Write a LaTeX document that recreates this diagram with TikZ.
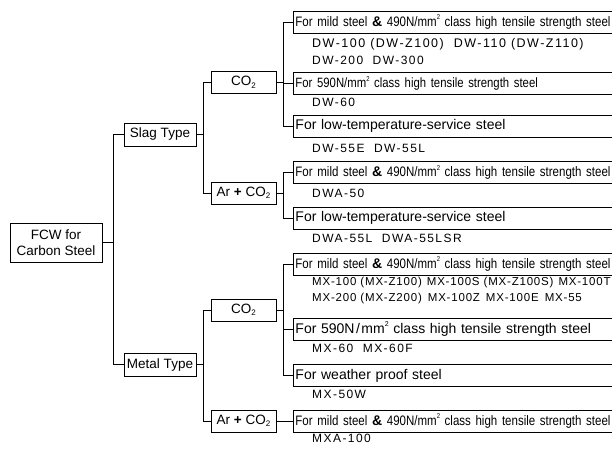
\documentclass[tikz,border=0pt]{standalone}
\usepackage{fontspec}
\setmainfont{Liberation Sans}
\newfontfamily\narrowf[FakeStretch=0.84]{Liberation Sans}
\newfontfamily\codef[LetterSpace=12]{Liberation Sans}
\newfontfamily\codeg[LetterSpace=7]{Liberation Sans}
\newcommand{\sqr}{\raisebox{0.85ex}{\fontsize{7}{7}\selectfont 2}}
\newcommand{\sub}{\raisebox{-0.35ex}{\fontsize{8}{8}\selectfont 2}}
\newcommand{\amp}{{\normalfont\bfseries\fontsize{14}{14}\selectfont\&}}
\newcommand{\mildtxt}{{\narrowf\fontsize{13.7}{16}\selectfont For mild steel \amp{} 490N/mm\sqr{} class high tensile strength steel}}
\tikzset{
  lv/.style={line width=0.9pt},
  tbox/.style={draw, lv, inner sep=0pt, align=center, font=\fontsize{13.5}{15.5}\selectfont},
  cat/.style={draw, lv, anchor=west, minimum height=22pt, text width=400pt, inner xsep=2pt, inner ysep=0pt, align=left, font=\fontsize{14}{16}\selectfont},
  code/.style={anchor=west, align=left, inner sep=0pt, font=\codef\fontsize{12}{17}\selectfont},
  codes/.style={anchor=west, align=left, inner sep=0pt, font=\codeg\fontsize{11.5}{16}\selectfont},
}
\begin{document}
\begin{tikzpicture}[x=1pt, y=-1pt]
\path[use as bounding box] (0,0) rectangle (612,448);
\clip (0,0) rectangle (612,448);
% level 0
\node[tbox, minimum width=92pt, minimum height=39pt] (fcw) at (56,242.5) {FCW for\\Carbon Steel};
% level 1
\node[tbox, minimum width=72pt, minimum height=23pt] (slag) at (160,134.5) {Slag Type};
\node[tbox, minimum width=72pt, minimum height=23pt] (metal) at (160,364.5) {Metal Type};
% level 2
\node[tbox, minimum width=65pt, minimum height=22pt] (co2a) at (243.5,82.5) {CO\sub};
\node[tbox, minimum width=65pt, minimum height=22pt] (ar1) at (243.5,193) {Ar {\bfseries+} CO\sub};
\node[tbox, minimum width=65pt, minimum height=22pt] (co2b) at (243.5,310) {CO\sub};
\node[tbox, minimum width=65pt, minimum height=22pt] (ar2) at (243.5,421) {Ar {\bfseries+} CO\sub};
% level 3
\node[cat] (c1) at (293,22) {\mildtxt};
\node[cat] (c2) at (293,83) {{\narrowf\fontsize{13.5}{16}\selectfont For 590N/mm\sqr{} class high tensile strength steel}};
\node[cat] (c3) at (293,126) {For low-temperature-service steel};
\node[cat] (c4) at (293,172.5) {\mildtxt};
\node[cat] (c5) at (293,218) {For low-temperature-service steel};
\node[cat] (c6) at (293,264) {\mildtxt};
\node[cat] (c7) at (293,329) {For 590N\hspace{1.5pt}/\hspace{1.5pt}mm\sqr{} class high tensile strength steel};
\node[cat] (c8) at (293,375.5) {For weather proof steel};
\node[cat] (c9) at (293,421) {\mildtxt};
% products
\node[code] (p1) at (312,52) {{\fontsize{12.5}{17}\selectfont DW-100 (DW-Z100)\hspace{10pt}DW-110 (DW-Z110)}\\DW-200\ \ DW-300};
\node[code] (p2) at (312,102) {DW-60};
\node[code] (p3) at (312,148) {DW-55E\ \ DW-55L};
\node[code] (p4) at (312,193) {DWA-50};
\node[code] (p5) at (312,238) {DWA-55L\ \ DWA-55LSR};
\node[codes] (p6) at (312,290.5) {MX-100 (MX-Z100)\hspace{5pt}MX-100S (MX-Z100S)\hspace{5pt}MX-100T\\MX-200 (MX-Z200)\hspace{6pt}MX-100Z\hspace{6pt}MX-100E\hspace{6pt}MX-55};
\node[code] (p7) at (312,348) {MX-60\ \ MX-60F};
\node[code] (p8) at (312,394) {MX-50W};
\node[code] (p9) at (312,438) {MXA-100};
% bus coordinates
\coordinate (b1) at (113,0);
\coordinate (b2) at (203,0);
\coordinate (b3) at (283,0);
% connectors
\draw[lv] (fcw.east) -- (fcw.east -| b1);
\draw[lv] (slag.west) -| (b1 |- metal.west) -- (metal.west);
\draw[lv] (slag.east) -- (slag.east -| b2);
\draw[lv] (co2a.west) -| (b2 |- ar1.west) -- (ar1.west);
\draw[lv] (metal.east) -- (metal.east -| b2);
\draw[lv] (co2b.west) -| (b2 |- ar2.west) -- (ar2.west);
\draw[lv] (co2a.east) -- (co2a.east -| b3);
\draw[lv] (c1.west) -| (b3 |- c3.west) -- (c3.west);
\draw[lv] (c2.west) -- (c2.west -| b3);
\draw[lv] (ar1.east) -- (ar1.east -| b3);
\draw[lv] (c4.west) -| (b3 |- c5.west) -- (c5.west);
\draw[lv] (co2b.east) -- (co2b.east -| b3);
\draw[lv] (c6.west) -| (b3 |- c8.west) -- (c8.west);
\draw[lv] (c7.west) -- (c7.west -| b3);
\draw[lv] (ar2.east) -- (c9.west);
\end{tikzpicture}
\end{document}
